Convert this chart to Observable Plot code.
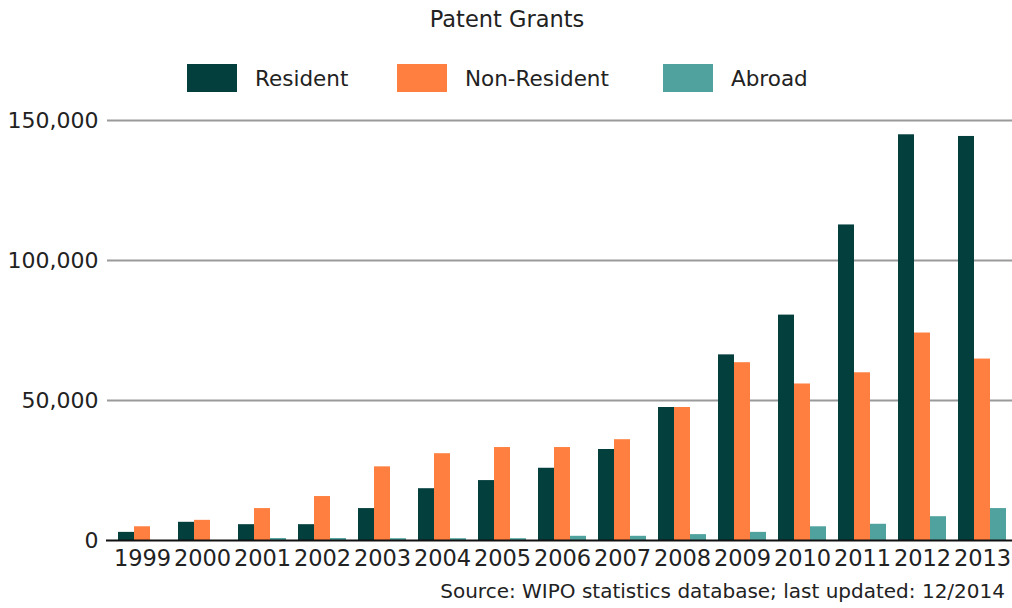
<!DOCTYPE html>
<html>
<head>
<meta charset="utf-8">
<script src="https://cdn.jsdelivr.net/npm/d3@7"></script>
<script src="https://cdn.jsdelivr.net/npm/@observablehq/plot@0.6"></script>
<style>
  html, body { margin: 0; padding: 0; background: #fff; }
  body { width: 1012px; height: 608px; overflow: hidden; font-family: "DejaVu Sans", sans-serif; color: #222; }
  #title { height: 40px; line-height: 38px; text-align: center; font-size: 22.5px; padding-left: 2px; }
  #legend { height: 28px; padding-top: 24px; padding-bottom: 8px; display: flex; align-items: center; padding-left: 187px; font-size: 21.5px; }
  .item { display: flex; align-items: center; }
  .sw { width: 50px; height: 28px; margin-right: 18px; box-sizing: border-box; flex: none; }
  #chart svg { display: block; }
  #chart g[aria-label^="x-axis"] text { font-size: 22.5px; }
  #chart g[aria-label^="y-axis"] text { font-size: 22px; }
  #caption { text-align: right; font-size: 20px; padding-right: 7px; margin-top: 9px; line-height: 24px; }
</style>
</head>
<body>
<div id="title">Patent Grants</div>
<div id="legend"></div>
<div id="chart"></div>
<div id="caption">Source: WIPO statistics database; last updated: 12/2014</div>
<script>
const years = ["1999","2000","2001","2002","2003","2004","2005","2006","2007","2008","2009","2010","2011","2012","2013"];
const resident    = [2900, 6500, 5650, 5650, 11400, 18500, 21400, 25800, 32500, 47500, 66300, 80500, 112700, 144900, 144300];
const nonResident = [4900, 7200, 11400, 15700, 26300, 31000, 33200, 33200, 36000, 47500, 63500, 55900, 59900, 74100, 64800];
const abroad      = [0, 0, 700, 700, 640, 640, 640, 1500, 1500, 2100, 2900, 4900, 5800, 8500, 11400];
const seriesNames = ["Resident", "Non-Resident", "Abroad"];
const seriesColors = ["#033f3d", "#fe7f3f", "#50a29f"];
const yTicks = [0, 50000, 100000, 150000];
const gridTicks = [50000, 100000, 150000];
const legendItemWidths = [210, 266, 150];

const seriesValues = [resident, nonResident, abroad];
const data = years.flatMap((year, i) =>
  seriesNames.map((s, k) => ({year, series: s, value: seriesValues[k][i]})));

// legend
const legend = document.getElementById("legend");
seriesNames.forEach((s, k) => {
  const item = document.createElement("div");
  item.className = "item";
  item.style.width = legendItemWidths[k] + "px";
  const sw = document.createElement("div");
  sw.className = "sw";
  sw.style.background = seriesColors[k];
  const lab = document.createElement("span");
  lab.textContent = s;
  item.appendChild(sw);
  item.appendChild(lab);
  legend.appendChild(item);
});

const barWidthShare = 16;
const marks = [
  Plot.ruleY(gridTicks, {stroke: "#9a9a9a", strokeWidth: 2, insetLeft: -5})
];
seriesNames.forEach((s, k) => {
  marks.push(Plot.barY(data.filter(d => d.series === s), {
    x: "year", y: "value", fill: "series",
    insetLeft: barWidthShare * k, insetRight: barWidthShare * (2 - k)
  }));
});
marks.push(Plot.ruleY([0], {stroke: "#111", strokeWidth: 2, insetLeft: -6}));

const chart = Plot.plot({
  width: 1012,
  height: 470,
  marginTop: 20,
  marginBottom: 30,
  marginLeft: 112,
  marginRight: 0,
  style: {fontFamily: "DejaVu Sans", fontSize: "20px", color: "#222", background: "white", overflow: "visible"},
  x: {domain: years, type: "band", paddingInner: 0.2, paddingOuter: 0.1, tickSize: 0, tickPadding: 10, label: null},
  y: {domain: [0, 150000], ticks: yTicks, tickFormat: d3.format(","), tickSize: 0, tickPadding: 14, label: null},
  color: {domain: seriesNames, range: seriesColors},
  marks
});
document.getElementById("chart").appendChild(chart);
</script>
</body>
</html>
